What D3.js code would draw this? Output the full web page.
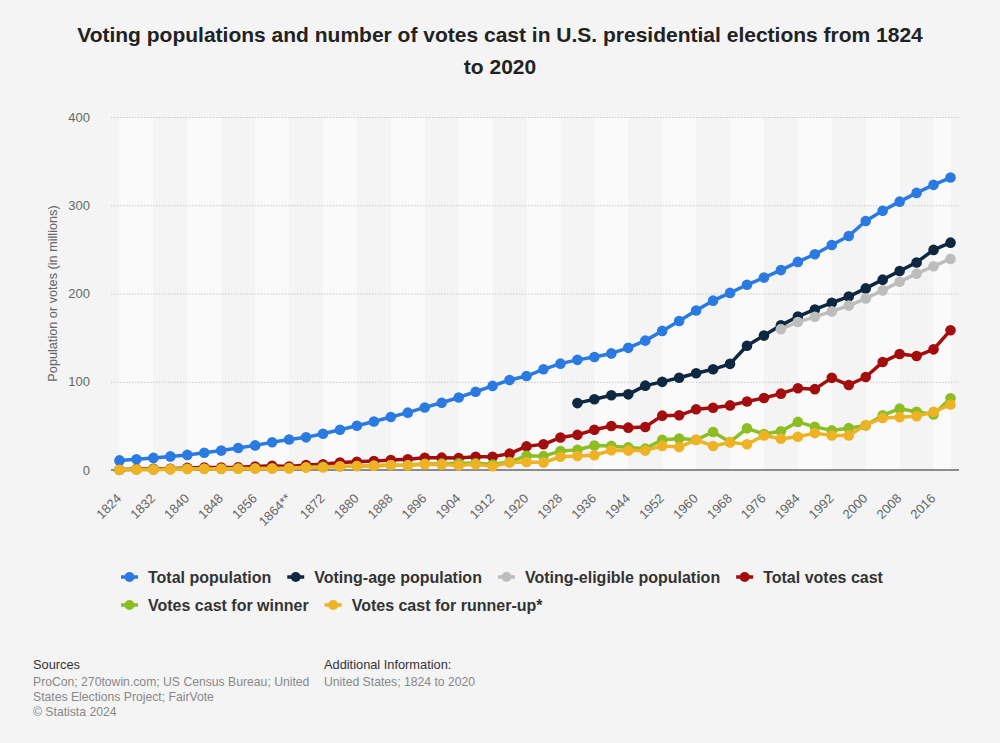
<!DOCTYPE html>
<html>
<head>
<meta charset="utf-8">
<script src="https://cdn.jsdelivr.net/npm/d3@7"></script>
<style>
  html, body { margin: 0; padding: 0; background: #f4f4f4; }
  svg { display: block; font-family: "Liberation Sans", Arial, sans-serif; }
</style>
</head>
<body>
<svg id="chart" width="1000" height="743"></svg>
<script>
// ---- data ----
const years = [1824,1828,1832,1836,1840,1844,1848,1852,1856,1860,1864,1868,1872,1876,1880,1884,1888,1892,1896,1900,1904,1908,1912,1916,1920,1924,1928,1932,1936,1940,1944,1948,1952,1956,1960,1964,1968,1972,1976,1980,1984,1988,1992,1996,2000,2004,2008,2012,2016,2020];
const tickLabels = ["1824","1832","1840","1848","1856","1864**","1872","1880","1888","1896","1904","1912","1920","1928","1936","1944","1952","1960","1968","1976","1984","1992","2000","2008","2016"];
const tickYears = [1824,1832,1840,1848,1856,1864,1872,1880,1888,1896,1904,1912,1920,1928,1936,1944,1952,1960,1968,1976,1984,1992,2000,2008,2016];
const yTicks = [0,100,200,300,400];

const totalPopulation = [10.9,12.2,13.7,15.4,17.1,19.6,22.0,24.9,27.9,31.4,34.6,37.0,41.0,45.6,50.2,55.0,60.0,65.0,70.9,76.2,82.2,88.7,95.3,102.0,106.5,114.1,120.5,124.8,128.1,132.1,138.4,146.6,157.6,168.9,180.7,191.9,200.7,209.9,218.0,226.5,235.8,244.5,255.0,265.2,282.2,293.7,304.1,314.0,323.1,331.4];
const votingAgePopulation = [null,null,null,null,null,null,null,null,null,null,null,null,null,null,null,null,null,null,null,null,null,null,null,null,null,null,null,75.8,80.2,84.7,85.7,95.6,99.9,104.5,109.7,114.1,120.3,140.8,152.3,163.9,173.9,181.9,189.5,196.5,205.8,215.7,225.5,235.2,249.4,257.6];
const votingEligiblePopulation = [null,null,null,null,null,null,null,null,null,null,null,null,null,null,null,null,null,null,null,null,null,null,null,null,null,null,null,null,null,null,null,null,null,null,null,null,null,null,null,159.6,167.7,173.6,179.7,186.3,194.3,203.5,213.3,222.5,230.9,239.2];
const totalVotesCast = [0.37,1.15,1.29,1.5,2.4,2.7,2.87,3.16,4.05,4.69,4.03,5.72,6.47,8.41,9.22,10.06,11.38,12.06,13.94,13.97,13.52,14.88,15.04,18.54,26.77,29.1,36.8,39.8,45.6,49.9,48.0,48.8,61.6,62.0,68.8,70.6,73.2,77.7,81.6,86.5,92.7,91.6,104.4,96.3,105.4,122.3,131.5,129.1,136.7,158.4];
const votesWinner = [0.15,0.64,0.70,0.76,1.28,1.34,1.36,1.6,1.84,1.87,2.21,3.01,3.6,4.03,4.45,4.91,5.44,5.55,7.1,7.2,7.6,7.68,6.3,9.1,16.1,15.7,21.4,22.8,27.7,27.3,25.6,24.2,34.1,35.6,34.2,43.1,31.8,47.2,40.8,43.9,54.5,48.9,44.9,47.4,50.5,62.0,69.5,65.9,63.0,81.3];
const votesRunnerUp = [0.15,0.5,0.48,0.74,1.13,1.3,1.22,1.39,1.34,1.38,1.81,2.71,2.83,4.29,4.44,4.85,5.53,5.18,6.5,6.37,5.08,6.41,4.12,8.55,9.14,8.39,15.0,15.8,16.7,22.3,22.0,22.0,27.3,26.0,34.1,27.2,31.3,29.2,39.1,35.5,37.6,41.8,39.1,39.2,51.0,59.0,59.9,60.9,65.9,74.2];

const seriesNames = ["Total population","Voting-age population","Voting-eligible population","Total votes cast","Votes cast for winner","Votes cast for runner-up*"];
const seriesColors = ["#2a7ae2","#0e2841","#bdbdbd","#a30d0d","#8cbd22","#eeb324"];
const seriesValues = [totalPopulation, votingAgePopulation, votingEligiblePopulation, totalVotesCast, votesWinner, votesRunnerUp];

// ---- layout ----
const svg = d3.select("#chart");
const W = 1000, H = 743;
const plot = {left: 111, right: 959, top: 117, bottom: 470};
const FONT = "'Liberation Sans', Arial, sans-serif";

svg.append("rect").attr("width", W).attr("height", H).attr("fill", "#f4f4f4");

const x = d3.scalePoint().domain(years).range([plot.left, plot.right]).padding(0.5);
const y = d3.scaleLinear().domain([0, 400]).range([plot.bottom, plot.top]);

// alternating stripes
const stripeG = svg.append("g");
tickYears.forEach((t, i) => {
  if (i % 2 === 0) {
    const x0 = x(t);
    const x1 = i + 1 < tickYears.length ? x(tickYears[i + 1]) : x(years[years.length - 1]);
    stripeG.append("rect").attr("x", x0).attr("y", plot.top).attr("width", x1 - x0)
      .attr("height", plot.bottom - plot.top).attr("fill", "#fafafa");
  }
});

// gridlines + y labels
const yAxis = d3.axisLeft(y).tickValues(yTicks).tickSize(-(plot.right - plot.left)).tickPadding(21);
const yg = svg.append("g").attr("transform", `translate(${plot.left},0)`).call(yAxis)
  .attr("font-size", 13).attr("font-family", FONT);
yg.select(".domain").remove();
yg.selectAll(".tick line").attr("stroke", "#c8c8c8").attr("stroke-dasharray", "1.5,1.5")
  .attr("stroke-width", 1);
yg.selectAll(".tick").filter(d => d === 0).select("line").remove();
yg.selectAll(".tick text").attr("fill", "#666");

// x axis
const xAxis = d3.axisBottom(x).tickValues(tickYears).tickSize(0)
  .tickFormat((d, i) => tickLabels[i]);
const xg = svg.append("g").attr("transform", `translate(0,${plot.bottom})`).call(xAxis)
  .attr("font-size", 13).attr("font-family", FONT);
xg.select(".domain").remove();
xg.selectAll(".tick text")
  .attr("fill", "#666")
  .attr("text-anchor", "end")
  .attr("transform", "translate(-1,26) rotate(-45)")
  .attr("y", 0).attr("dy", "0.35em").attr("x", 0);

// baseline
svg.append("line").attr("x1", plot.left).attr("x2", plot.right)
  .attr("y1", y(0)).attr("y2", y(0)).attr("stroke", "#222").attr("stroke-width", 1.2);

// y axis title
svg.append("text")
  .attr("transform", `translate(57,${(plot.top + plot.bottom) / 2}) rotate(-90)`)
  .attr("text-anchor", "middle").attr("fill", "#666").attr("font-size", 12.7)
  .text("Population or votes (in millions)");

// series
const line = d3.line().defined(d => d.v != null).x(d => x(d.year)).y(d => y(d.v));
seriesValues.forEach((vals, si) => {
  const pts = years.map((yr, i) => ({year: yr, v: vals[i]}));
  const g = svg.append("g");
  g.append("path").datum(pts).attr("d", line).attr("fill", "none")
    .attr("stroke", seriesColors[si]).attr("stroke-width", 3.5).attr("stroke-linejoin", "round");
  g.selectAll("circle").data(pts.filter(d => d.v != null)).join("circle")
    .attr("cx", d => x(d.year)).attr("cy", d => y(d.v)).attr("r", 5.3)
    .attr("fill", seriesColors[si]);
});

// title
const title = svg.append("text").attr("text-anchor", "middle").attr("fill", "#222")
  .attr("font-size", 21).attr("font-weight", "bold");
title.append("tspan").attr("x", 500).attr("y", 42)
  .text("Voting populations and number of votes cast in U.S. presidential elections from 1824");
title.append("tspan").attr("x", 500).attr("y", 74).text("to 2020");

// legend
const legendRows = [[0,1,2,3],[4,5]];
const legendY = [577, 605];
legendRows.forEach((row, ri) => {
  let cx = 121;
  row.forEach(si => {
    const g = svg.append("g").attr("transform", `translate(${cx},${legendY[ri]})`);
    g.append("line").attr("x1", 0).attr("x2", 17).attr("y1", 0).attr("y2", 0)
      .attr("stroke", seriesColors[si]).attr("stroke-width", 3.5);
    g.append("circle").attr("cx", 8.5).attr("cy", 0).attr("r", 5).attr("fill", seriesColors[si]);
    const t = g.append("text").attr("x", 27).attr("y", 0).attr("dy", "0.35em")
      .attr("font-size", 16).attr("font-weight", "bold").attr("fill", "#333")
      .text(seriesNames[si]);
    const w = t.node().getComputedTextLength();
    cx += 27 + w + 16;
  });
});

// footer
const foot = svg.append("g").attr("font-size", 12.2);
foot.append("text").attr("x", 33).attr("y", 669).attr("fill", "#333").attr("font-size", 12.8).text("Sources");
const srcLines = ["ProCon; 270towin.com; US Census Bureau; United", "States Elections Project; FairVote", "© Statista 2024"];
srcLines.forEach((s, i) => foot.append("text").attr("x", 33).attr("y", 686 + i * 15).attr("fill", "#888").text(s));
foot.append("text").attr("x", 324).attr("y", 669).attr("fill", "#333").attr("font-size", 12.8).text("Additional Information:");
foot.append("text").attr("x", 324).attr("y", 686).attr("fill", "#888").text("United States; 1824 to 2020");
</script>
</body>
</html>
